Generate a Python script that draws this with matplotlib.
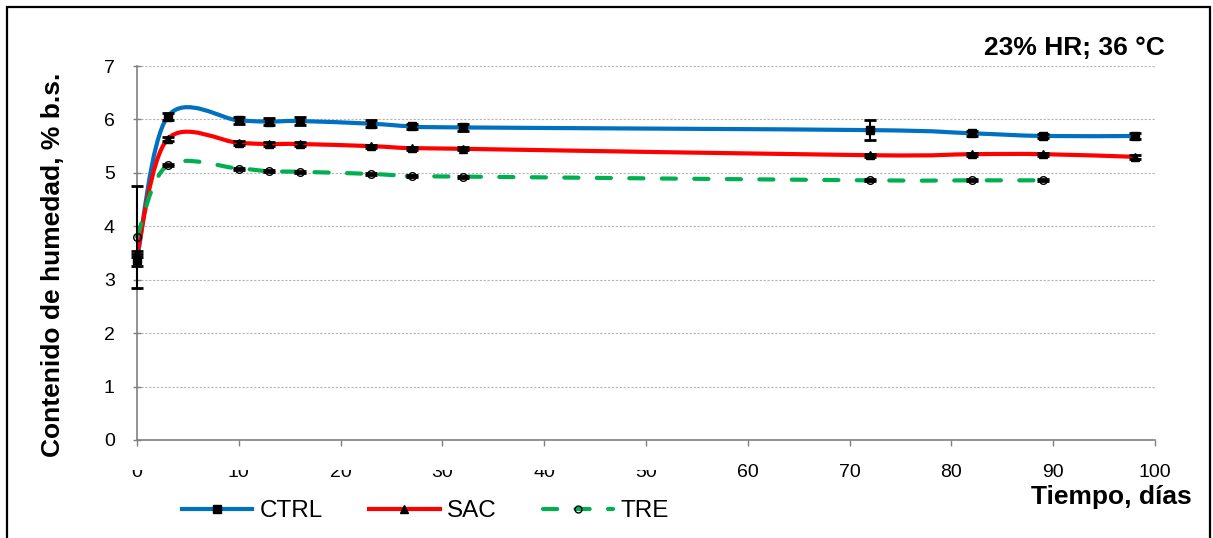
"""Contenido de humedad vs tiempo (23% HR; 36 °C)."""

import matplotlib

matplotlib.use("Agg")
import matplotlib.pyplot as plt
import numpy as np
from matplotlib.lines import Line2D
from matplotlib.patches import PathPatch, Rectangle
from matplotlib.path import Path
from matplotlib.transforms import Bbox, TransformedBbox

plt.rcParams["font.family"] = ["Liberation Sans", "DejaVu Sans"]

# --- data -------------------------------------------------------------
dias = [0, 3, 10, 13, 16, 23, 27, 32, 72, 82, 89, 98]
ctrl = [3.37, 6.05, 5.98, 5.96, 5.97, 5.92, 5.87, 5.85, 5.80, 5.74, 5.69, 5.69]
ctrl_err = [0.12, 0.07, 0.07, 0.06, 0.07, 0.06, 0.05, 0.07, 0.19, 0.05, 0.03, 0.05]
sac = [3.48, 5.63, 5.56, 5.54, 5.54, 5.50, 5.46, 5.45, 5.33, 5.35, 5.35, 5.30]
sac_err = [0.05, 0.04, 0.03, 0.03, 0.03, 0.03, 0.03, 0.03, 0.03, 0.03, 0.03, 0.04]

dias_tre = [0, 3, 10, 13, 16, 23, 27, 32, 72, 82, 89]
tre = [3.80, 5.14, 5.08, 5.03, 5.02, 4.98, 4.94, 4.93, 4.86, 4.86, 4.86]
tre_err = [0.95, 0.02, 0.02, 0.02, 0.02, 0.02, 0.02, 0.02, 0.02, 0.02, 0.02]

series = [
    ("CTRL", dias, ctrl, ctrl_err, "#0070C0", "s", "k", "-"),
    ("SAC", dias, sac, sac_err, "#FF0000", "^", "k", "-"),
    ("TRE", dias_tre, tre, tre_err, "#00B050", "o", "none", (0, (3.4, 4.4))),
]

W, H = 1213, 538


def smooth_path(x, y):
    """Excel-like smoothed line: Catmull-Rom segments as cubic Beziers."""
    pts = np.column_stack([x, y]).astype(float)
    n = len(pts)
    verts = [pts[0]]
    codes = [Path.MOVETO]
    for i in range(n - 1):
        p0 = pts[i - 1] if i > 0 else pts[i]
        p1, p2 = pts[i], pts[i + 1]
        p3 = pts[i + 2] if i + 2 < n else pts[i + 1]
        c1 = p1 + (p2 - p0) / 6.0
        c2 = p2 - (p3 - p1) / 6.0
        verts += [c1, c2, p2]
        codes += [Path.CURVE4] * 3
    return Path(verts, codes)


fig = plt.figure(figsize=(W / 100, H / 100), dpi=100)
ax = fig.add_axes([137 / W, 1 - 440 / H, (1155 - 137) / W, (440 - 66) / H])

handles = []
for name, x, y, err, color, mk, mfc, ls in series:
    patch = PathPatch(smooth_path(x, y), fill=False, edgecolor=color, lw=3,
                      linestyle=ls, capstyle="round", joinstyle="round",
                      zorder=2, clip_on=False)
    ax.add_patch(patch)
    eb = ax.errorbar(x, y, yerr=err, fmt="none", ecolor="k", elinewidth=1.5,
                     capsize=4, capthick=2, zorder=3)
    for art in eb.lines[1] + eb.lines[2]:
        art.set_clip_on(False)
    ax.plot(x, y, linestyle="none", marker=mk, ms=6 if mk != "o" else 5.5,
            mfc=mfc, mec="k", mew=1.0, zorder=4, clip_on=False)
    handles.append(Line2D([], [], color=color, lw=3, linestyle=ls,
                          dash_capstyle="round", marker=mk,
                          ms=6 if mk != "o" else 5, mfc=mfc, mec="k", mew=1.0,
                          label=name))

ax.set_xlim(0, 100)
ax.set_ylim(0, 7)
ax.set_xticks(range(0, 101, 10))
ax.set_yticks(range(0, 8))

for side in ("top", "right"):
    ax.spines[side].set_visible(False)
for side in ("left", "bottom"):
    ax.spines[side].set_color("#808080")
    ax.spines[side].set_linewidth(1.2)

ax.yaxis.grid(True, color="#b4b4b4", linestyle=(0, (2, 1.5)), lw=0.8)
ax.set_axisbelow(True)

ax.tick_params(axis="y", direction="inout", length=6, width=1.0,
               color="#808080", labelsize=14, pad=13)
ax.tick_params(axis="x", direction="out", length=4, width=1.0,
               color="#808080", labelsize=14, pad=13)

# the legend box cuts off the top of the left tick labels in the original
clip = TransformedBbox(Bbox([[0, 0], [700 / W, 68 / H]]), fig.transFigure)
for tick, val in zip(ax.xaxis.get_major_ticks(), range(0, 101, 10)):
    if val <= 50:
        tick.label1.set_clip_box(clip)
        tick.label1.set_clip_on(True)

fig.text(53 / W, 1 - 265 / H, "Contenido de humedad, % b.s.", rotation=90,
         ha="center", va="center", fontsize=19, fontweight="bold")
fig.text(1111 / W, 1 - 504 / H, "Tiempo, días", ha="center", va="baseline",
         fontsize=19, fontweight="bold")
fig.text(1165 / W, 1 - 55 / H, "23% HR; 36 °C", ha="right", va="baseline",
         fontsize=19, fontweight="bold")

fig.legend(handles=handles, loc="center left",
           bbox_to_anchor=(182 / W, 1 - 511 / H), ncol=3, frameon=False,
           fontsize=17.5, handlelength=2.9, handletextpad=0.3,
           columnspacing=1.9, borderpad=0, borderaxespad=0)

fig.patches.append(Rectangle((7 / W, -0.02), (1210 - 7) / W, 1.02 - 7 / H,
                             transform=fig.transFigure, fill=False,
                             edgecolor="k", lw=1.6))

fig.savefig("out.png", dpi=100)
